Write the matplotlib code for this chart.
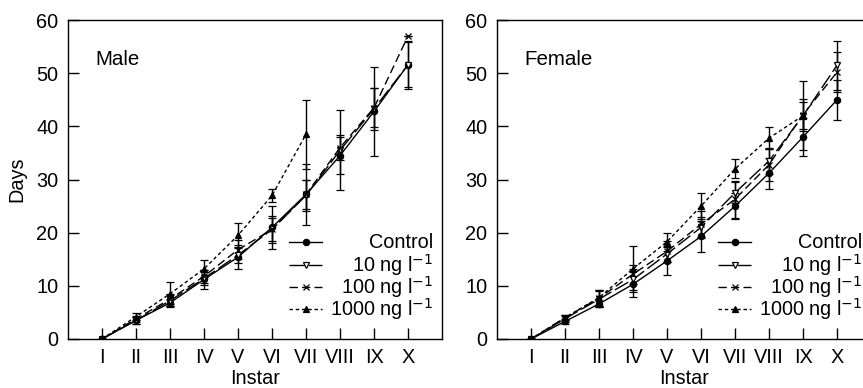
"""Development time per instar for male and female, four exposure levels."""

import matplotlib

matplotlib.use("Agg")

import matplotlib.pyplot as plt
import numpy as np

plt.rcParams["font.family"] = ["Liberation Sans", "DejaVu Sans"]

instars = ["I", "II", "III", "IV", "V", "VI", "VII", "VIII", "IX", "X"]
series_labels = ["Control", "10 ng l$^{-1}$", "100 ng l$^{-1}$", "1000 ng l$^{-1}$"]

nan = np.nan
male_control = [0, 3.5, 6.8, 11.2, 15.4, 21.0, 27.2, 34.5, 42.8, 51.6]
male_control_err = [0, 0.6, 0.7, 1.8, 2.2, 4.0, 5.8, 3.5, 8.3, 4.5]
male_10 = [0, 3.5, 7.2, 11.4, 15.8, 20.6, 27.0, 35.5, 43.3, 51.6]
male_10_err = [0, 0.6, 1.0, 1.2, 1.5, 2.2, 3.0, 7.5, 4.0, 4.2]
male_100 = [0, 3.8, 7.5, 11.8, 16.8, 20.6, 27.2, 36.0, 43.5, 57.0]
male_100_err = [0, 0.6, 1.0, 1.2, 1.8, 2.5, 2.8, 2.3, 3.7, 0]
male_1000 = [0, 4.2, 8.5, 13.2, 19.5, 27.0, 38.5, nan, nan, nan]
male_1000_err = [0, 0.7, 2.2, 1.6, 2.3, 1.3, 6.5, nan, nan, nan]

female_control = [0, 3.3, 6.6, 10.3, 14.7, 19.3, 25.0, 31.2, 38.0, 45.0]
female_control_err = [0, 0.5, 0.6, 2.4, 2.7, 2.9, 2.5, 2.9, 3.5, 3.8]
female_10 = [0, 3.8, 7.5, 11.2, 16.0, 21.0, 27.5, 33.5, 42.0, 51.5]
female_10_err = [0, 0.6, 1.5, 2.0, 1.5, 2.0, 2.0, 2.5, 6.5, 4.6]
female_100 = [0, 4.0, 7.7, 12.2, 16.5, 21.6, 26.3, 32.8, 42.2, 50.2]
female_100_err = [0, 0.5, 1.5, 1.8, 2.0, 2.5, 3.5, 3.0, 3.0, 3.8]
female_1000 = [0, 4.0, 7.8, 13.2, 18.3, 25.0, 32.0, 37.8, 42.0, nan]
female_1000_err = [0, 0.5, 1.5, 4.3, 1.7, 2.4, 1.8, 2.0, 2.5, nan]

FONT = 14.3

STYLES = [
    dict(linestyle="-", marker="o", markersize=4.5, markerfacecolor="black"),
    dict(linestyle=(0, (11, 3)), marker="v", markersize=5, markerfacecolor="white"),
    dict(linestyle=(0, (6, 3)), marker="x", markersize=4, markerfacecolor="black"),
    dict(linestyle=(0, (2.5, 2)), marker="^", markersize=4.5, markerfacecolor="black"),
]


def draw_panel(ax, values, errors, title):
    x = np.arange(1, len(instars) + 1)
    for vals, errs, style in zip(values, errors, STYLES):
        vals = np.asarray(vals, dtype=float)
        errs = np.asarray(errs, dtype=float)
        keep = np.isfinite(vals)
        ax.errorbar(x[keep], vals[keep], yerr=errs[keep], color="black", linewidth=1.0,
                    markeredgecolor="black", markeredgewidth=0.9, elinewidth=1.0,
                    capsize=2.8, capthick=1.0, **style)
    ax.set_xlim(0, 11)
    ax.set_ylim(0, 60)
    ax.set_xticks(x)
    ax.set_xticklabels(instars)
    ax.set_yticks(np.arange(0, 61, 10))
    ax.tick_params(direction="in", length=8, width=1.0, labelsize=FONT)
    ax.tick_params(axis="x", pad=6.5)
    ax.tick_params(axis="y", pad=7)
    for spine in ax.spines.values():
        spine.set_linewidth(1.0)
    ax.set_xlabel("Instar", fontsize=FONT, labelpad=1.5)
    ax.text(0.072, 0.875, title, transform=ax.transAxes, fontsize=FONT + 0.5, va="center")

    # legend drawn by hand so the labels can be right aligned
    rows = [0.303, 0.233, 0.163, 0.093]
    for label, style, y in zip(series_labels, STYLES, rows):
        ax.plot([0.592, 0.635, 0.678], [y, y, y], transform=ax.transAxes, color="black",
                linewidth=1.0, markevery=[1], markeredgecolor="black", markeredgewidth=0.9,
                clip_on=False, **style)
        ax.text(0.976, y, label, transform=ax.transAxes, ha="right", va="center", fontsize=FONT)


fig = plt.figure(figsize=(8.63, 3.88), dpi=100)
ax_m = fig.add_axes([0.0788, 0.1263, 0.4334, 0.822])
ax_f = fig.add_axes([0.5759, 0.1263, 0.4334, 0.822])

draw_panel(ax_m, [male_control, male_10, male_100, male_1000],
           [male_control_err, male_10_err, male_100_err, male_1000_err], "Male")
draw_panel(ax_f, [female_control, female_10, female_100, female_1000],
           [female_control_err, female_10_err, female_100_err, female_1000_err], "Female")
ax_m.set_ylabel("Days", fontsize=FONT, labelpad=7)

fig.savefig("out.png", dpi=100)
